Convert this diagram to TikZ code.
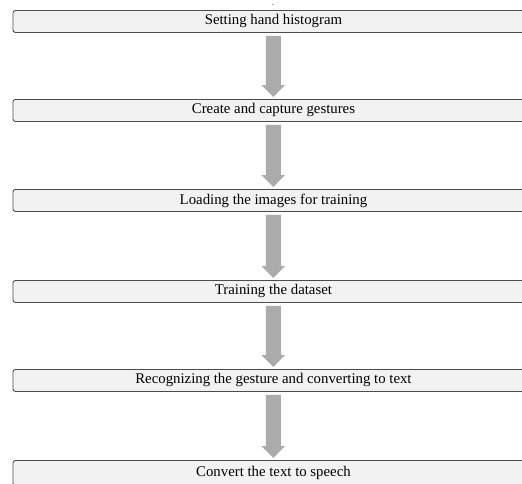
\documentclass[tikz,border=0pt]{standalone}
\usepackage{fontspec}
\setmainfont{Liberation Serif}
\usetikzlibrary{calc}
\begin{document}
\begin{tikzpicture}[x=1pt,y=-1pt,
  stepbox/.style={draw=black!70,line width=0.9pt,fill=black!5,rounded corners=2.5pt,
    minimum width=521pt,minimum height=22pt,inner sep=0pt,anchor=north west,
    font=\fontsize{14.8}{16}\selectfont},
  flowarrow/.style={fill=black!33,draw=none}]
\useasboundingbox (0,0) rectangle (522,483);
\begin{scope}
\clip (0,0) rectangle (522,483);
\node[stepbox] (s1) at (12.5,10) {Setting hand histogram};
\node[stepbox] (s2) at (12.5,99) {Create and capture gestures};
\node[stepbox] (s3) at (12.5,189) {Loading the images for training};
\node[stepbox] (s4) at (12.5,280) {Training the dataset};
\node[stepbox] (s5) at (12.5,369) {Recognizing the gesture and converting to text};
\node[stepbox,minimum height=25pt] (s6) at (12.5,460) {Convert the text to speech};
\end{scope}
\draw[black!30,line width=0.6pt] (271.5,4.5) -- (274,4.5);
\foreach \a/\b in {s1/s2,s2/s3,s3/s4,s4/s5,s5/s6}{
  \path (\a.south -| 273.3,0) ++(0,3) coordinate (t\a);
  \path (\b.north -| 273.3,0) ++(0,-2) coordinate (h\a);
  \fill[flowarrow] ($(t\a)+(-7.5,0)$) -- ($(h\a)+(-7.5,-12)$) -- ($(h\a)+(-11.8,-12)$)
    -- (h\a) -- ($(h\a)+(11.8,-12)$) -- ($(h\a)+(7.5,-12)$) -- ($(t\a)+(7.5,0)$) -- cycle;
}
\end{tikzpicture}
\end{document}
